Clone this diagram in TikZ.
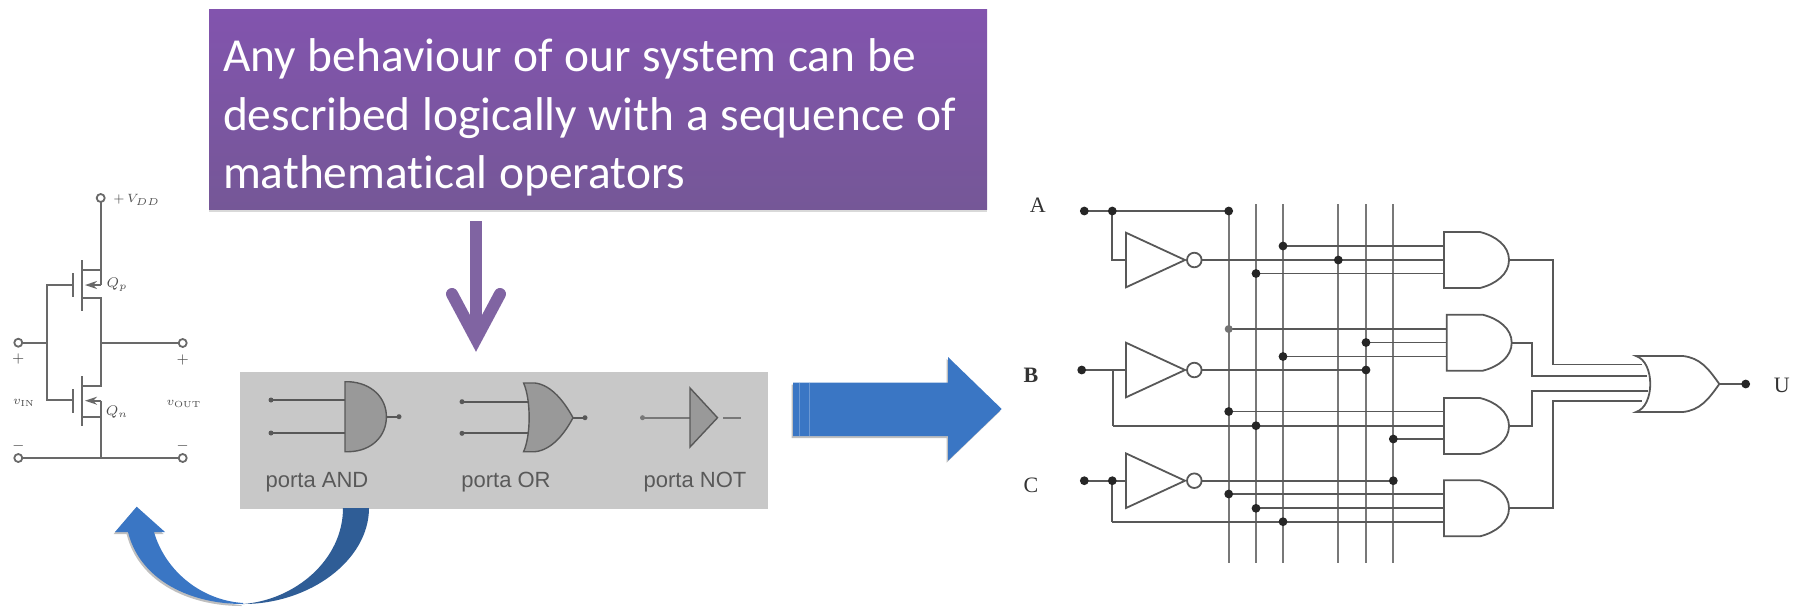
\documentclass[tikz,border=0pt]{standalone}
\usepackage{fontspec}
\usepackage{amsmath}
\usepackage{xcolor}
\usetikzlibrary{arrows.meta, positioning, shadows}
\newfontfamily\calibrifont[Ligatures=NoCommon]{Carlito}
\newfontfamily\sansfont{Liberation Sans}
\newfontfamily\seriffont{Liberation Serif}
\definecolor{boxtop}{RGB}{130, 84, 174}
\definecolor{boxbottom}{RGB}{117, 87, 151}
\definecolor{arrowpurple}{RGB}{128, 100, 162}
\definecolor{arrowblue}{RGB}{58, 118, 196}
\definecolor{arrowdark}{RGB}{47, 93, 150}
\definecolor{panelgray}{RGB}{200, 200, 200}
\definecolor{wiregray}{RGB}{88, 88, 88}
\definecolor{railgray}{RGB}{120, 120, 120}
\tikzset{
  wire/.style={wiregray, line width=0.9pt},
  rail/.style={railgray, line width=1pt},
  fet/.style={wiregray!90, line width=0.9pt},
  smallgate/.style={draw=wiregray, fill=black!40, line width=0.7pt},
  softshadow/.style={drop shadow={shadow xshift=-0.7pt, shadow yshift=-1pt, opacity=0.25, fill=black}},
  circuitlabel/.style={font=\seriffont\fontsize{11}{13}\selectfont, text=black!80},
  fetlabel/.style={font=\fontsize{7.5}{9}\selectfont, text=black!70, inner sep=0pt},
  smallfetlabel/.style={font=\fontsize{6.3}{8}\selectfont, text=black!70, inner sep=0pt},
  gatelabel/.style={font=\sansfont\fontsize{11}{13}\selectfont, text=black!65, inner sep=0pt}
}
\begin{document}
\begin{tikzpicture}[x=0.5pt, y=-0.5pt]
  \useasboundingbox (0,0) rectangle (1793,607);

  % purple box and its arrow
  \node[rectangle, top color=boxtop, bottom color=boxbottom, minimum width=389pt, minimum height=100pt,
    text width=375pt, align=left, text=white, inner sep=0pt, drop shadow={shadow xshift=0pt, shadow yshift=-1.5pt, opacity=0.3},
    font=\calibrifont\fontsize{23.7}{29.15}\selectfont] (statement) at (598,109)
    {\spaceskip=5.9pt\relax\rule{0pt}{25pt}Any behaviour of our system can be\\ described logically with a sequence of\\ mathematical operators};
  \coordinate (arrowstart) at (476,221);
  \coordinate (arrowtip) at (476,339);
  \draw[arrowpurple, line width=6pt] (arrowstart) -- (arrowtip);
  \draw[arrowpurple, line width=6pt, line cap=round, line join=miter] (452,294) -- (arrowtip) -- (500,294);

  % gray panel
  \node[fill=panelgray, minimum width=264pt, minimum height=68.5pt, inner sep=0pt] (panel) at (504,440.5) {};
  \draw[wire, line cap=round] (271,400) -- (345,400);
  \draw[wire, line cap=round] (271,433) -- (345,433);
  \draw[wire, line cap=round] (386,416.7) -- (399,416.7);
  \fill[wiregray] (271,400) circle (2.5) (271,433) circle (2.5) (399,416.7) circle (2.5);
  \draw[smallgate] (345,381.7) -- (349,381.7) .. controls (372,383) and (386.4,398) .. (386.4,416.7)
    .. controls (386.4,436) and (372,451) .. (349,451.7) -- (345,451.7) -- cycle;
  \draw[wire, line cap=round] (462,401.7) -- (530,401.7);
  \draw[wire, line cap=round] (462,433.3) -- (530,433.3);
  \draw[wire, line cap=round] (573,417.7) -- (585,417.7);
  \fill[wiregray] (462,401.7) circle (2.5) (462,433.3) circle (2.5) (585,417.7) circle (2.5);
  \draw[smallgate] (523.6,383) -- (535,383) .. controls (552,385) and (565,403) .. (573,417.7)
    .. controls (565,433) and (552,450) .. (535,451.7) -- (523.6,451.7)
    .. controls (531,435) and (531,400) .. (523.6,383) -- cycle;
  \draw[railgray, line width=1.2pt] (642.5,417.7) -- (690,417.7);
  \draw[railgray, line width=1.2pt] (723,417.7) -- (741,417.7);
  \fill[railgray] (642.5,417.7) circle (2.5);
  \draw[smallgate] (690,388) -- (717.5,417.7) -- (690,447) -- cycle;
  \node[gatelabel] (andlabel) at (317,482) {porta AND};
  \node[gatelabel] (orlabel) at (506,482) {porta OR};
  \node[gatelabel] (notlabel) at (695,482) {porta NOT};

  % curved blue arrow
  \fill[arrowblue, softshadow] (243,604) .. controls (190,604) and (140,580) .. (128,532) -- (115,532)
    -- (136.7,506.7) -- (165,532) -- (154,532) .. controls (165,570) and (200,600) .. (243,603) -- cycle;
  \fill[arrowdark] (343,508) -- (369,508) .. controls (369,560) and (310,604) .. (243,604)
    .. controls (295,600) and (343,560) .. (343,508) -- cycle;

  % straight blue arrow
  \fill[arrowblue, softshadow] (793,382.7) -- (948,382.7) -- (948,357) -- (1001.7,409) -- (948,460.7) -- (948,436) -- (793,436) -- cycle;
  \foreach \x in {799,809} {
    \draw[arrowblue!75!white, line width=0.4pt] (\x,382.7) -- (\x,436);
  }

  % transistor inverter
  \draw[fet] (100.7,202) -- (100.7,285);
  \draw[fet] (82.3,270) -- (100.7,270);
  \draw[fet] (82.3,298) -- (100.7,298) -- (100.7,386) -- (82.3,386);
  \draw[fet] (82.3,416.7) -- (100.7,416.7) -- (100.7,458);
  \draw[fet] (100.7,400.7) -- (100.7,416.7);
  \draw[fet, -{Stealth[length=6pt, width=4pt]}] (100.7,285) -- (85,285);
  \draw[fet, -{Stealth[length=6pt, width=4pt]}] (100.7,400.7) -- (85,400.7);
  \draw[fet] (72.7,285) -- (47.3,285) -- (47.3,400) -- (72.7,400);
  \draw[fet] (22.3,342.7) -- (47.3,342.7);
  \draw[fet] (100.7,343) -- (178.7,343);
  \draw[fet] (22.3,458) -- (178.7,458);
  \foreach \ya/\yb in {273/297, 389/413} {
    \draw[fet] (72.7,\ya) -- (72.7,\yb);
  }
  \foreach \ya/\yb in {260/311, 376/426} {
    \draw[fet] (82.3,\ya) -- (82.3,\yb);
  }
  \foreach \x/\y in {100.7/198, 18.3/342.7, 182.7/343, 18.3/458, 182.7/458} {
    \draw[fet] (\x,\y) circle (4);
  }
  \node[smallfetlabel, anchor=west] (vdd) at (113,200) {$+\,V_{DD}$};
  \node[fetlabel] (qp) at (117,285) {$Q_p$};
  \node[fetlabel] (qn) at (117,412) {$Q_n$};
  \node[smallfetlabel] (vin) at (24,403) {$v_{\mathrm{IN}}$};
  \node[smallfetlabel] (vout) at (184,404) {$v_{\mathrm{OUT}}$};
  \node[fetlabel] (inplus) at (18.3,359) {$+$};
  \node[fetlabel] (outplus) at (182.7,360) {$+$};
  \node[fetlabel] (inminus) at (18.3,446) {$-$};
  \node[fetlabel] (outminus) at (182.7,446) {$-$};

  % logic network
  \foreach \x in {1256,1283,1338.3,1366,1393.3} {
    \draw[rail] (\x,204) -- (\x,563.3);
  }
  \draw[rail] (1228.7,211) -- (1228.7,563.3);
  \foreach \y in {260,370,480.7} {
    \draw[wire] (1126,{\y-27.3}) -- (1185,\y) -- (1126,{\y+27.3}) -- cycle;
    \draw[wire] (1194.3,\y) circle (7.3);
  }
  \draw[wire] (1084.3,211) -- (1228.7,211);
  \draw[wire] (1112.3,211) -- (1112.3,260) -- (1126,260);
  \draw[wire] (1081.7,370) -- (1126,370);
  \draw[wire] (1112.7,370) -- (1112.7,425.7);
  \draw[wire] (1084.3,480.7) -- (1126,480.7);
  \draw[wire] (1112.3,480.7) -- (1112.3,521.7);
  \foreach \xa/\xb/\y in {1283/1444/246, 1201.6/1444/260, 1256/1444/273.5,
      1228.7/1447/329, 1366/1447/342.5, 1283/1447/356.5, 1201.6/1366/370,
      1228.7/1444/411.5, 1112.7/1444/425.7, 1393.3/1444/439,
      1201.6/1393.3/480.7, 1228.7/1444/494, 1256/1444/508.3, 1112.3/1444/521.7} {
    \draw[wire] (\xa,\y) -- (\xb,\y);
  }
  \foreach \x/\y in {1084.3/211, 1112.3/211, 1228.7/211, 1283/246, 1338.3/260, 1256/273.5,
      1366/342.5, 1283/356.5, 1081.7/370, 1366/370, 1228.7/411.5, 1256/425.7, 1393.3/439,
      1084.3/480.7, 1112.3/480.7, 1393.3/480.7, 1228.7/494, 1256/508.3, 1283/521.7} {
    \fill[black!85] (\x,\y) circle (4.4);
  }
  \fill[black!55] (1228.7,329) circle (4);
  \foreach \x/\y in {1444/260, 1446.7/342.7, 1444/426, 1444/508.3} {
    \begin{scope}[shift={(\x,\y)}]
      \draw[wire] (0,-28) -- (36,-28) .. controls (52,-24) and (65,-14) .. (65,0)
        .. controls (65,14) and (52,24) .. (36,28) -- (0,28) -- cycle;
    \end{scope}
  }
  \draw[wire] (1509,260) -- (1553.3,260) -- (1553.3,364.5) -- (1642,364.5);
  \draw[wire] (1511,342.7) -- (1531.7,342.7) -- (1531.7,376) -- (1647,376);
  \draw[wire] (1509,426) -- (1531.7,426) -- (1531.7,390.7) -- (1648,390.7);
  \draw[wire] (1509,508.3) -- (1553.3,508.3) -- (1553.3,401) -- (1642,401);
  \draw[wire] (1636,356) .. controls (1655,362) and (1655,406) .. (1636,412)
    -- (1683,412) .. controls (1700,410) and (1708,400) .. (1719.3,384)
    .. controls (1708,368) and (1700,358) .. (1683,356) -- cycle;
  \draw[wire] (1719.3,384) -- (1745.7,384);
  \fill[black!85] (1745.7,384) circle (4.4);
  \node[circuitlabel] (inputa) at (1037.7,205) {A};
  \node[circuitlabel, font=\seriffont\bfseries\fontsize{11}{13}\selectfont] (inputb) at (1031,375) {B};
  \node[circuitlabel] (inputc) at (1031,485.7) {C};
  \node[circuitlabel] (outputu) at (1781.7,385) {U};
\end{tikzpicture}
\end{document}
